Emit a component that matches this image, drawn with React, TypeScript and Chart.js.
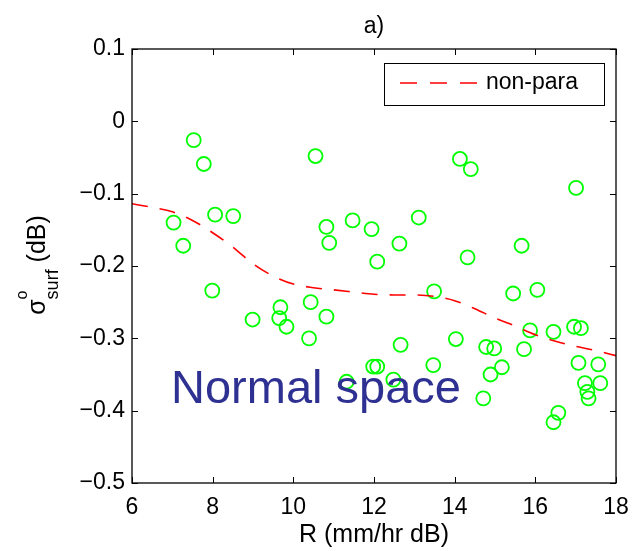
import React, { useEffect, useRef } from "react";
import { Chart, registerables } from "chart.js";

Chart.register(...registerables);

const pointsX = [7.53, 7.78, 7.03, 7.27, 8.06, 8.51, 10.55, 10.82, 10.89, 11.47, 11.94, 12.08, 12.63, 13.11, 14.13, 14.40, 14.32, 15.66, 17.01, 7.99, 8.99, 9.68, 9.65, 9.83, 10.43, 10.39, 10.82, 11.98, 12.08, 11.32, 13.49, 15.45, 16.05, 12.66, 12.48, 13.47, 14.03, 14.78, 14.98, 14.89, 15.17, 14.71, 15.72, 15.87, 16.45, 16.96, 17.13, 17.07, 17.56, 17.61, 17.23, 17.29, 17.32, 16.57, 16.45];
const pointsY = [-0.026, -0.059, -0.140, -0.172, -0.129, -0.131, -0.048, -0.146, -0.168, -0.137, -0.149, -0.194, -0.169, -0.133, -0.052, -0.066, -0.188, -0.172, -0.092, -0.234, -0.274, -0.257, -0.272, -0.284, -0.250, -0.300, -0.270, -0.339, -0.339, -0.360, -0.235, -0.238, -0.233, -0.309, -0.357, -0.337, -0.301, -0.312, -0.314, -0.350, -0.340, -0.383, -0.315, -0.289, -0.291, -0.284, -0.286, -0.334, -0.336, -0.362, -0.362, -0.374, -0.383, -0.403, -0.416];

const curveX = [6, 6.5, 7, 7.5, 8, 8.5, 9, 9.5, 10, 10.5, 11, 11.5, 12, 12.5, 13, 13.5, 14, 14.5, 15, 15.5, 16, 16.5, 17, 17.5, 18];
const curveY = [-0.114, -0.119, -0.125, -0.137, -0.154, -0.174, -0.197, -0.214, -0.225, -0.230, -0.233, -0.236, -0.239, -0.240, -0.240, -0.242, -0.248, -0.259, -0.272, -0.283, -0.295, -0.304, -0.311, -0.317, -0.324];

const xTicks = [6, 8, 10, 12, 14, 16, 18];
const yTicks = [0.1, 0, -0.1, -0.2, -0.3, -0.4, -0.5];

const titleText = "a)";
const xTitle = "R (mm/hr dB)";
const legendLabel = "non-para";
const overlayText = "Normal space";

const FONT = "'Liberation Sans', Arial, sans-serif";

const decorPlugin = {
  id: "decor",
  afterDatasetsDraw(chart: any) {
    const { ctx, chartArea: a, scales } = chart;
    const xs = scales.x;
    const ys = scales.y;
    ctx.save();
    // frame
    ctx.strokeStyle = "#000";
    ctx.lineWidth = 1.3;
    ctx.strokeRect(a.left, a.top, a.right - a.left, a.bottom - a.top);
    // inward ticks
    const tl = 6;
    ctx.lineWidth = 1;
    ctx.beginPath();
    xTicks.forEach((v) => {
      const px = Math.round(xs.getPixelForValue(v)) + 0.5;
      ctx.moveTo(px, a.bottom);
      ctx.lineTo(px, a.bottom - tl);
      ctx.moveTo(px, a.top);
      ctx.lineTo(px, a.top + tl);
    });
    yTicks.forEach((v) => {
      const py = Math.round(ys.getPixelForValue(v)) + 0.5;
      ctx.moveTo(a.left, py);
      ctx.lineTo(a.left + tl, py);
      ctx.moveTo(a.right, py);
      ctx.lineTo(a.right - tl, py);
    });
    ctx.stroke();

    // title
    ctx.fillStyle = "#000";
    ctx.font = `23px ${FONT}`;
    ctx.textAlign = "center";
    ctx.textBaseline = "middle";
    ctx.fillText(titleText, (a.left + a.right) / 2, 27);

    // x title
    ctx.font = `25px ${FONT}`;
    ctx.fillText(xTitle, (a.left + a.right) / 2, 535);

    // y title (rotated composite)
    ctx.save();
    ctx.translate(45, 265);
    ctx.rotate(-Math.PI / 2);
    ctx.textAlign = "left";
    ctx.textBaseline = "alphabetic";
    const mainF = `25px ${FONT}`;
    const subF = `18px ${FONT}`;
    const supF = `16px ${FONT}`;
    ctx.font = mainF;
    const wSig = ctx.measureText("σ").width;
    const wDb = ctx.measureText(" (dB)").width;
    ctx.font = subF;
    const wSub = ctx.measureText("surf").width;
    const total = wSig + wSub + wDb;
    let x0 = -total / 2;
    ctx.font = mainF;
    ctx.fillText("σ", x0, 0);
    ctx.font = subF;
    ctx.fillText("surf", x0 + wSig, 13);
    ctx.font = supF;
    ctx.fillText("o", x0 + wSig, -18);
    ctx.font = mainF;
    ctx.fillText(" (dB)", x0 + wSig + wSub, 0);
    ctx.restore();

    // legend
    const lx = 384.5, ly = 63.5, lw = 220, lh = 42;
    ctx.fillStyle = "#fff";
    ctx.fillRect(lx, ly, lw, lh);
    ctx.strokeStyle = "#000";
    ctx.lineWidth = 1;
    ctx.strokeRect(lx, ly, lw, lh);
    ctx.strokeStyle = "#ff0000";
    ctx.lineWidth = 1.6;
    ctx.setLineDash([17, 13]);
    ctx.beginPath();
    ctx.moveTo(400, 83);
    ctx.lineTo(479, 83);
    ctx.stroke();
    ctx.setLineDash([]);
    ctx.fillStyle = "#000";
    ctx.font = `23px ${FONT}`;
    ctx.textAlign = "left";
    ctx.textBaseline = "middle";
    ctx.fillText(legendLabel, 486, 83);

    // overlay text
    ctx.fillStyle = "#2e3192";
    ctx.font = `47px ${FONT}`;
    ctx.textBaseline = "alphabetic";
    ctx.fillText(overlayText, 171, 403);
    ctx.restore();
  },
};

export default function App() {
  const ref = useRef<HTMLCanvasElement>(null);
  useEffect(() => {
    if (!ref.current) return;
    const chart = new Chart(ref.current, {
      type: "scatter",
      data: {
        datasets: [
          {
            type: "line",
            label: legendLabel,
            data: curveX.map((x, i) => ({ x, y: curveY[i] })),
            borderColor: "#ff0000",
            borderWidth: 1.6,
            borderDash: [16, 12],
            pointRadius: 0,
            fill: false,
            tension: 0.4,
            cubicInterpolationMode: "monotone",
            order: 1,
          } as any,
          {
            label: "data",
            data: pointsX.map((x, i) => ({ x, y: pointsY[i] })),
            borderColor: "#00ff00",
            backgroundColor: "rgba(0,0,0,0)",
            borderWidth: 1.8,
            pointRadius: 7,
            pointHoverRadius: 7,
            order: 2,
          },
        ],
      },
      options: {
        animation: false,
        responsive: false,
        maintainAspectRatio: false,
        events: [],
        layout: { padding: { top: 49, right: 19, left: 0, bottom: 0 } },
        plugins: {
          legend: { display: false },
          title: { display: false },
          tooltip: { enabled: false },
        },
        scales: {
          x: {
            type: "linear",
            min: 6,
            max: 18,
            afterBuildTicks: (s: any) => {
              s.ticks = xTicks.map((v) => ({ value: v }));
            },
            afterFit: (s: any) => {
              s.height = 68;
              s.paddingLeft = 0;
              s.paddingRight = 0;
            },
            grid: { display: false, drawTicks: false },
            border: { display: false },
            ticks: {
              color: "#000",
              font: { size: 23, family: FONT },
              padding: 11,
              maxRotation: 0,
              autoSkip: false,
              callback: (v: any) => String(v),
            },
          },
          y: {
            type: "linear",
            min: -0.5,
            max: 0.1,
            afterBuildTicks: (s: any) => {
              s.ticks = yTicks.map((v) => ({ value: v }));
            },
            afterFit: (s: any) => {
              s.width = 132;
              s.paddingTop = 0;
              s.paddingBottom = 0;
            },
            grid: { display: false, drawTicks: false },
            border: { display: false },
            ticks: {
              color: "#000",
              font: { size: 23, family: FONT },
              padding: 7,
              autoSkip: false,
              callback: (v: any) => {
                const r = Math.round(Number(v) * 10) / 10;
                if (r === 0) return "0";
                const s = Math.abs(r).toFixed(1);
                return r < 0 ? "\u2212" + s : s;
              },
            },
          },
        },
      },
      plugins: [decorPlugin],
    });
    return () => chart.destroy();
  }, []);
  return (
    <div style={{ position: "absolute", left: 0, top: 0, width: 635, height: 551, background: "#fff" }}>
      <canvas ref={ref} width={635} height={551} style={{ width: 635, height: 551 }} />
    </div>
  );
}
